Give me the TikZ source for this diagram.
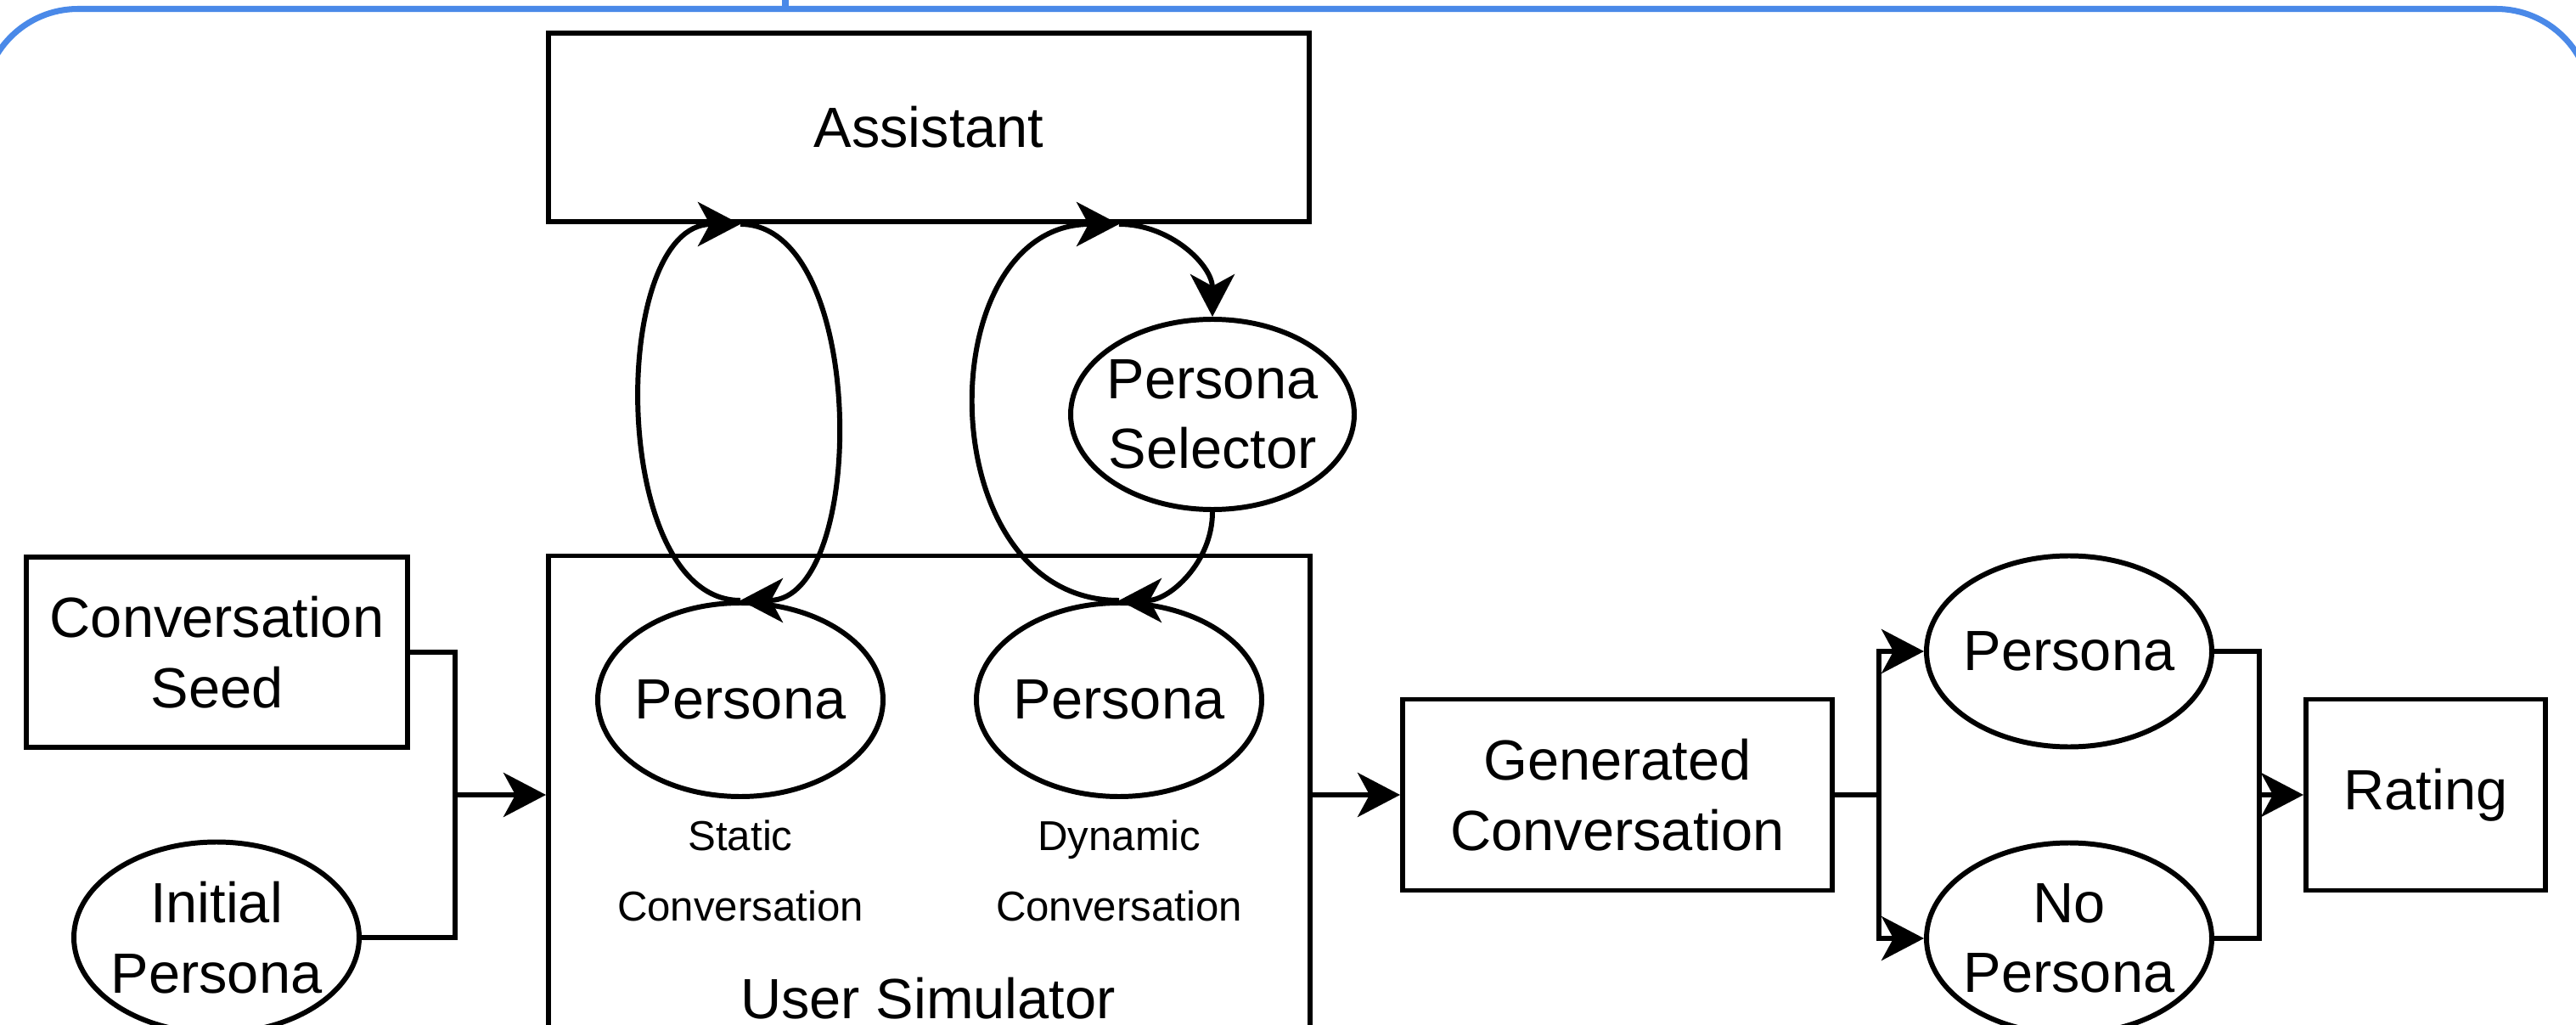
\documentclass[tikz,border=0pt]{standalone}
\usepackage{fontspec}
\setmainfont{Liberation Sans}
\usetikzlibrary{shapes.geometric,arrows.meta}
\definecolor{frameblue}{RGB}{74,137,232}
\tikzset{
    title/.style={font=\fontsize{19pt}{23.5pt}\selectfont},
    box/.style={draw, line width=1.7pt, rectangle, align=center, title},
    oval/.style={draw, line width=1.7pt, ellipse, inner sep=-0.2cm, minimum width=3.36cm, minimum height=2.25cm, align=center, title},
    note/.style={align=center, font=\fontsize{14pt}{23.5pt}\selectfont},
    wire/.style={line width=1.7pt},
    link/.style={line width=1.7pt, -{Stealth[length=5mm, width=5.2mm, inset=1.4mm]}}
}
\begin{document}
\begin{tikzpicture}
        \useasboundingbox (0,0) rectangle (30.34,12.06);
        \draw[frameblue, line width=2pt, rounded corners=1.12cm] (-0.2,-1) rectangle (30.52,11.955);
        \draw[frameblue, line width=0.08cm] (9.25,11.955) -- (9.25,12.2);

        \node[box, minimum width=8.96cm, minimum height=2.22cm] (assistant) at (10.94,10.56) {Assistant};
        \node[box, minimum width=8.97cm, minimum height=5.63cm] (usersim) at (10.945,2.70) {};
        \node[title, anchor=base] (simlabel) at (10.93,0.07) {User Simulator};
        \node[oval, minimum height=2.28cm] (pstatic) at (8.72,3.82) {Persona};
        \node[oval, minimum height=2.28cm] (pdynamic) at (13.18,3.82) {Persona};
        \node[note] (staticnote) at (8.72,1.805) {Static\\Conversation};
        \node[note] (dynamicnote) at (13.18,1.805) {Dynamic\\Conversation};
        \node[oval, minimum width=3.34cm, minimum height=2.24cm] (selector) at (14.28,7.18) {Persona\\Selector};
        \node[box, minimum width=4.49cm, minimum height=2.24cm] (seed) at (2.555,4.38) {Conversation\\Seed};
        \node[oval] (initpersona) at (2.55,1.02) {Initial\\Persona};
        \node[box, minimum width=5.06cm, minimum height=2.25cm] (genconv) at (19.05,2.70) {Generated\\Conversation};
        \node[oval] (withpersona) at (24.37,4.39) {Persona};
        \node[oval] (nopersona) at (24.37,1.01) {No\\Persona};
        \node[box, minimum width=2.82cm, minimum height=2.25cm] (rating) at (28.57,2.70) {Rating};

        \coordinate (merge) at (5.36,2.70);
        \coordinate (split) at (22.13,2.70);
        \coordinate (join) at (26.61,2.70);

        \draw[wire] (seed.east) -| (merge);
        \draw[wire] (initpersona.east) -| (merge);
        \draw[link] (merge) -- (usersim.west);
        \draw[link] (usersim.east) -- (genconv.west);
        \draw[wire] (genconv.east) -- (split);
        \draw[link] (split) |- (withpersona.west);
        \draw[link] (split) |- (nopersona.west);
        \draw[wire] (withpersona.east) -| (join);
        \draw[wire] (nopersona.east) -| (join);
        \draw[link] (join) -- (rating.west);

        \draw[link] (pstatic.north) to[out=180, in=180, distance=1.55cm] (pstatic.north |- assistant.south);
        \draw[link] (pstatic.north |- assistant.south) to[out=0, in=0, distance=1.5cm] (pstatic.north);
        \draw[link] (pdynamic.north) to[out=180, in=180, distance=2.25cm] (pdynamic.north |- assistant.south);
        \draw[link] (pdynamic.north |- assistant.south) to[out=0, in=90] (selector.north);
        \draw[link] (selector.south) to[out=-90, in=0] (pdynamic.north);
\end{tikzpicture}
\end{document}
